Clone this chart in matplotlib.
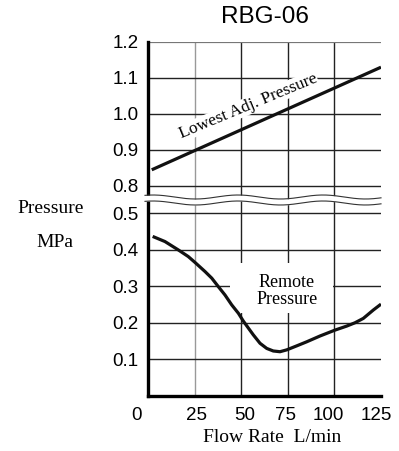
import numpy as np
import matplotlib
matplotlib.use("Agg")
import matplotlib.pyplot as plt
from matplotlib.transforms import ScaledTranslation
from matplotlib.patches import Rectangle

# ---- data ----
title = "RBG-06"
x_ticks = [0, 25, 50, 75, 100, 125]
y_ticks_upper = [0.8, 0.9, 1.0, 1.1, 1.2]
y_ticks_lower = [0.1, 0.2, 0.3, 0.4, 0.5]

lowest_x = [2, 125]
lowest_y = [0.845, 1.13]

remote_x = [2.5, 9.1, 16.3, 21.6, 25.2, 30.6, 34.2, 37.7, 41.3, 44.9, 48.5, 51.1, 53.5,
            56.5, 60.1, 63.7, 67.2, 70.8, 74.4, 79.8, 85.1, 92.3, 100.3, 106.6, 111.0,
            115.5, 120.9, 125.0]
remote_y = [0.436, 0.422, 0.399, 0.381, 0.365, 0.340, 0.322, 0.299, 0.276, 0.249, 0.226,
            0.205, 0.188, 0.167, 0.144, 0.130, 0.123, 0.121, 0.126, 0.137, 0.148, 0.164,
            0.180, 0.191, 0.200, 0.212, 0.235, 0.251]

SANS = "Liberation Sans"
SERIF = "Liberation Serif"

W, H = 399, 451
fig = plt.figure(figsize=(W / 100, H / 100), dpi=100)

L, R = 148, 381
TOP, BRK, BOT = 42, 199, 396

def fr(x0, y0, x1, y1):
    return [x0 / W, 1 - y1 / H, (x1 - x0) / W, (y1 - y0) / H]

ax_u = fig.add_axes(fr(L, TOP, R, BRK))
ax_l = fig.add_axes(fr(L, BRK, R, BOT))

ax_u.set_ylim(1.2 - (BRK - TOP) / 360.0, 1.2)
ax_l.set_ylim(0, 0.5 + (213 - BRK) / 366.0)

for ax in (ax_u, ax_l):
    ax.set_xlim(0, 125)
    ax.set_axisbelow(True)
    for s in ("top", "right", "bottom"):
        ax.spines[s].set_visible(False)
    ax.spines["left"].set_linewidth(2.4)
    ax.spines["left"].set_color("black")
    ax.tick_params(length=0, labelsize=13.5)
    for xv in x_ticks[1:-1]:
        ax.axvline(xv, color="#999999" if xv == 25 else "#222222", lw=1.0, zorder=0.5)

ax_l.spines["bottom"].set_visible(True)
ax_l.spines["bottom"].set_linewidth(2.4)

for yv in y_ticks_upper:
    ax_u.axhline(yv, color="#777777" if yv == 1.2 else "#222222",
                 lw=1.6 if yv == 1.2 else 1.0, zorder=0.5)
for yv in y_ticks_lower:
    ax_l.axhline(yv, color="#222222", lw=1.0, zorder=0.5)

ax_u.set_yticks(y_ticks_upper)
ax_u.set_yticklabels([f"{v:.1f}" for v in y_ticks_upper], fontfamily=SANS)
ax_u.set_xticks([])
ax_l.set_yticks(y_ticks_lower)
ax_l.set_yticklabels([f"{v:.1f}" for v in y_ticks_lower], fontfamily=SANS)
ax_l.set_xticks(x_ticks)
ax_l.set_xticklabels([str(v) for v in x_ticks], fontfamily=SANS)
ax_u.tick_params(axis="y", pad=7)
ax_l.tick_params(axis="y", pad=7)
ax_l.tick_params(axis="x", pad=8)

shifts = [-12, 2, 4, -2, -6, -5]
for lab, dx in zip(ax_l.get_xticklabels(), shifts):
    lab.set_transform(lab.get_transform() + ScaledTranslation(dx / 100, 0, fig.dpi_scale_trans))

# curves
ax_u.plot(lowest_x, lowest_y, color="#111111", lw=2.3, solid_capstyle="butt", zorder=3)
ax_l.plot(remote_x, remote_y, color="#111111", lw=2.3, solid_capstyle="butt",
          solid_joinstyle="round", zorder=3)

ax_u.text(53.6, 1.022, "Lowest Adj. Pressure", rotation=22.5, rotation_mode="anchor",
          ha="center", va="center", fontfamily=SERIF, fontsize=12.5,
          bbox=dict(facecolor="white", edgecolor="none", pad=0.5), zorder=2)

ax_l.add_patch(Rectangle((44, 0.227), 55.5, 0.136, facecolor="white", edgecolor="none", zorder=1))
ax_l.text(74.5, 0.288, "Remote\nPressure", ha="center", va="center", fontfamily=SERIF,
          fontsize=13, linespacing=1.0, zorder=2)

# break band (decorative)
ov = fig.add_axes([0, 0, 1, 1], facecolor="none")
ov.set_xlim(0, W)
ov.set_ylim(H, 0)
ov.axis("off")
xs = np.linspace(L - 3, R, 400)
wave = 2.0 * np.cos(2 * np.pi * (xs - 153) / 85.0)
up = 197.0 - wave
lo = 203.0 - wave
ov.fill_between(xs, up, lo, color="white", lw=0)
ov.plot(xs, up, color="#333333", lw=0.8)
ov.plot(xs, lo, color="#333333", lw=0.8)

fig.text(265 / W, 1 - 17 / H, title, ha="center", va="center", fontfamily=SANS, fontsize=17.5)
fig.text(51 / W, 1 - 209 / H, "Pressure", ha="center", va="center", fontfamily=SERIF, fontsize=14)
fig.text(55 / W, 1 - 242 / H, "MPa", ha="center", va="center", fontfamily=SERIF, fontsize=14)
fig.text(272 / W, 1 - 438 / H, "Flow Rate  L/min", ha="center", va="center", fontfamily=SERIF, fontsize=14)

fig.savefig("out.png", dpi=100)
